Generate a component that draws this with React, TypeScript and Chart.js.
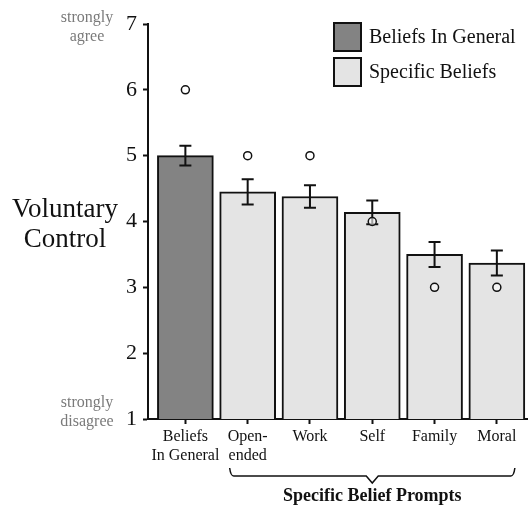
import React, { useEffect, useRef } from "react";
import { Chart, registerables } from "chart.js";

Chart.register(...registerables);

const categories: (string | string[])[] = [["Beliefs", "In General"], ["Open-", "ended"], "Work", "Self", "Family", "Moral"];
const means = [5.0, 4.45, 4.38, 4.14, 3.5, 3.37];
const errors = [0.15, 0.19, 0.17, 0.18, 0.19, 0.19];
const medians = [6, 5, 5, 4, 3, 3];
const groups = [0, 1, 1, 1, 1, 1];
const legendLabels = ["Beliefs In General", "Specific Beliefs"];
const groupColors = ["#838383", "#e4e4e4"];
const yTicks = [1, 2, 3, 4, 5, 6, 7];
const yTitle = ["Voluntary", "Control"];
const topAnchor = ["strongly", "agree"];
const bottomAnchor = ["strongly", "disagree"];
const bracketLabel = "Specific Belief Prompts";

const SERIF = "'Liberation Serif', 'Times New Roman', serif";

const extrasPlugin = {
  id: "extras",
  afterDatasetsDraw(chart: any) {
    const ctx = chart.ctx;
    const xs = chart.scales.x;
    const ys = chart.scales.y;
    ctx.save();
    ctx.strokeStyle = "#111";
    ctx.lineWidth = 2;
    means.forEach((m, i) => {
      const x = xs.getPixelForValue(i);
      const yt = ys.getPixelForValue(m + errors[i]);
      const yb = ys.getPixelForValue(m - errors[i]);
      ctx.beginPath();
      ctx.moveTo(x, yt);
      ctx.lineTo(x, yb);
      ctx.moveTo(x - 6, yt);
      ctx.lineTo(x + 6, yt);
      ctx.moveTo(x - 6, yb);
      ctx.lineTo(x + 6, yb);
      ctx.stroke();
    });
    ctx.lineWidth = 1.5;
    medians.forEach((md, i) => {
      const x = xs.getPixelForValue(i);
      const y = ys.getPixelForValue(md);
      ctx.beginPath();
      ctx.arc(x, y, 4, 0, Math.PI * 2);
      ctx.fillStyle = "rgba(255,255,255,0.6)";
      ctx.fill();
      ctx.stroke();
    });
    ctx.restore();
  },
  afterDraw(chart: any) {
    const ctx = chart.ctx;
    const xs = chart.scales.x;
    const ys = chart.scales.y;
    ctx.save();
    legendLabels.forEach((lab, i) => {
      const bx = 333;
      const by = 22 + i * 35;
      ctx.fillStyle = groupColors[i];
      ctx.fillRect(bx, by, 29, 30);
      ctx.strokeStyle = "#111";
      ctx.lineWidth = 2;
      ctx.strokeRect(bx + 1, by + 1, 27, 28);
      ctx.fillStyle = "#111";
      ctx.font = `20px ${SERIF}`;
      ctx.textAlign = "left";
      ctx.textBaseline = "middle";
      ctx.fillText(lab, 369, by + 16);
    });
    ctx.fillStyle = "#111";
    ctx.font = `27px ${SERIF}`;
    ctx.textAlign = "center";
    ctx.textBaseline = "middle";
    ctx.fillText(yTitle[0], 65, 210);
    ctx.fillText(yTitle[1], 65, 240);
    ctx.fillStyle = "#7a7a7a";
    ctx.font = `16px ${SERIF}`;
    const y7 = ys.getPixelForValue(7);
    const y1 = ys.getPixelForValue(1);
    ctx.fillText(topAnchor[0], 87, y7 - 6);
    ctx.fillText(topAnchor[1], 87, y7 + 13);
    ctx.fillText(bottomAnchor[0], 87, y1 - 16);
    ctx.fillText(bottomAnchor[1], 87, y1 + 3);
    const left = xs.getPixelForValue(1) - 18;
    const right = xs.getPixelForValue(5) + 18;
    const mid = (left + right) / 2;
    const by = 476;
    ctx.strokeStyle = "#111";
    ctx.lineWidth = 1.5;
    ctx.beginPath();
    ctx.moveTo(left, by - 8);
    ctx.quadraticCurveTo(left + 1, by, left + 4, by);
    ctx.lineTo(mid - 6, by);
    ctx.lineTo(mid, by + 7);
    ctx.lineTo(mid + 6, by);
    ctx.lineTo(right - 4, by);
    ctx.quadraticCurveTo(right - 1, by, right, by - 8);
    ctx.stroke();
    ctx.fillStyle = "#111";
    ctx.font = `bold 18px ${SERIF}`;
    ctx.fillText(bracketLabel, mid, 496);
    ctx.restore();
  },
};

export default function App() {
  const ref = useRef<HTMLCanvasElement | null>(null);
  useEffect(() => {
    if (!ref.current) return;
    Chart.defaults.font.family = SERIF;
    const chart = new Chart(ref.current, {
      type: "bar",
      data: {
        datasets: [
          {
            label: "Voluntary Control",
            data: means.map((m, i) => ({ x: i, y: m })) as any,
            backgroundColor: groups.map((g) => groupColors[g]),
            borderColor: "#111",
            borderWidth: 2,
            barThickness: 56,
            borderSkipped: false,
          },
        ],
      },
      options: {
        responsive: false,
        animation: false,
        layout: { padding: { top: 24, left: 0, right: 0, bottom: 0 } },
        plugins: { legend: { display: false }, tooltip: { enabled: false } },
        scales: {
          x: {
            type: "linear",
            min: -0.6,
            max: 5.5,
            offset: false,
            afterBuildTicks: (scale: any) => {
              scale.ticks = categories.map((_, i) => ({ value: i }));
            },
            afterFit: (scale: any) => {
              scale.height = 91;
            },
            grid: { offset: false, drawOnChartArea: false, drawTicks: true, tickLength: 5, tickColor: "#111", tickWidth: 2 },
            border: { color: "#111", width: 2 },
            ticks: {
              autoSkip: false,
              maxRotation: 0,
              padding: 3,
              color: "#111",
              font: { size: 16, family: SERIF, lineHeight: 1.2 },
              callback: (v: any) => categories[v as number],
            },
          },
          y: {
            min: 1,
            max: 7,
            afterBuildTicks: (scale: any) => {
              scale.ticks = yTicks.map((v) => ({ value: v }));
            },
            afterFit: (scale: any) => {
              scale.width = 148;
            },
            grid: { drawOnChartArea: false, drawTicks: true, tickLength: 5, tickColor: "#111", tickWidth: 2 },
            border: { color: "#111", width: 2 },
            ticks: {
              padding: 6,
              color: "#111",
              font: { size: 22, family: SERIF },
            },
          },
        },
      },
      plugins: [extrasPlugin],
    });
    return () => chart.destroy();
  }, []);
  return (
    <div style={{ position: "absolute", left: 0, top: 0, width: 528, height: 510, background: "#fff" }}>
      <canvas ref={ref} width={528} height={510} />
    </div>
  );
}
